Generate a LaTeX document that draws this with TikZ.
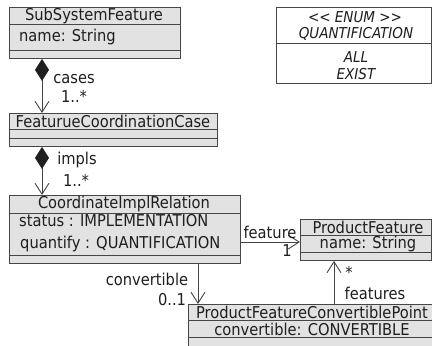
\documentclass[tikz,border=0pt]{standalone}
\usepackage{fontspec}
\setmainfont{DejaVu Sans Condensed}
\usetikzlibrary{arrows.meta,calc}
\definecolor{boxfill}{RGB}{226,226,226}
\definecolor{ink}{RGB}{30,30,30}
\definecolor{edge}{RGB}{70,70,70}

\begin{document}
\begin{tikzpicture}[x=1pt,y=-1pt,
  classbox/.style={draw=edge, fill=boxfill, line width=0.9pt, inner sep=0pt, anchor=north west},
  enumbox/.style={draw=edge, fill=white, line width=0.9pt, inner sep=0pt, anchor=north west},
  txt/.style={font=\fontsize{16.3}{18}\selectfont, text=ink, inner sep=0pt},
  etxt/.style={txt, font=\fontsize{15}{17}\selectfont\itshape},
  sep/.style={draw=edge, line width=0.9pt},
  assoc/.style={draw=edge, line width=0.9pt, -{Straight Barb[length=11pt,width=14pt]}},
  comp/.style={draw=edge, line width=0.9pt,
    {Diamond[length=22pt,width=14pt,fill=ink,color=ink]}-{Straight Barb[length=11pt,width=14pt]}},
]
\useasboundingbox (0,0) rectangle (432,346);

% SubSystemFeature
\node[classbox, minimum width=171pt, minimum height=51pt] (ssf) at (9,7) {};
\draw[sep] ($(ssf.north west)+(0,17)$) -- ($(ssf.north east)+(0,17)$);
\draw[sep] ($(ssf.north west)+(0,43)$) -- ($(ssf.north east)+(0,43)$);
\node[txt] (ssfT) at (94,16) {SubSystemFeature};
\node[txt, anchor=west] (ssfA) at (19,37) {name: String};

% FeaturueCoordinationCase
\node[classbox, minimum width=208pt, minimum height=33pt] (fcc) at (9,113) {};
\draw[sep] ($(fcc.north west)+(0,16)$) -- ($(fcc.north east)+(0,16)$);
\draw[sep] ($(fcc.north west)+(0,25)$) -- ($(fcc.north east)+(0,25)$);
\node[txt] (fccT) at (113,121) {FeaturueCoordinationCase};

% CoordinateImplRelation
\node[classbox, minimum width=231pt, minimum height=68pt] (cir) at (9,195) {};
\draw[sep] ($(cir.north west)+(0,18)$) -- ($(cir.north east)+(0,18)$);
\draw[sep] ($(cir.north west)+(0,60)$) -- ($(cir.north east)+(0,60)$);
\node[txt] (cirT) at (124,204) {CoordinateImplRelation};
\node[txt, anchor=west] (cirA) at (19,221) {status : IMPLEMENTATION};
\node[txt, anchor=west] (cirB) at (20,244) {quantify : QUANTIFICATION};

% ProductFeature
\node[classbox, minimum width=131pt, minimum height=41pt] (pf) at (300,219) {};
\draw[sep] ($(pf.north west)+(0,16)$) -- ($(pf.north east)+(0,16)$);
\draw[sep] ($(pf.north west)+(0,33)$) -- ($(pf.north east)+(0,33)$);
\node[txt] (pfT) at (368,227) {ProductFeature};
\node[txt] (pfA) at (368,244) {name: String};

% ProductFeatureConvertiblePoint (runs past the lower and right edges)
\node[classbox, minimum width=260pt, minimum height=60pt] (pfcp) at (188,304) {};
\draw[sep] ($(pfcp.north west)+(0,16)$) -- ($(pfcp.north east)+(0,16)$);
\draw[sep] ($(pfcp.north west)+(0,33)$) -- ($(pfcp.north east)+(0,33)$);
\node[txt] (pfcpT) at (312,312) {ProductFeatureConvertiblePoint};
\node[txt] (pfcpA) at (312,329) {convertible: CONVERTIBLE};

% QUANTIFICATION enumeration
\node[enumbox, minimum width=155pt, minimum height=76pt] (en) at (276,7) {};
\draw[sep] ($(en.north west)+(0,36)$) -- ($(en.north east)+(0,36)$);
\node[etxt] (enS) at (355,17) {{<}{<} ENUM {>}{>}};
\node[etxt] (enN) at (356,34) {QUANTIFICATION};
\node[etxt] (enA) at (356,57) {ALL};
\node[etxt] (enB) at (356,74) {EXIST};

% connector positions
\coordinate (xc) at (42,0);
\coordinate (xv) at (198,0);
\coordinate (xf) at (334,0);
\coordinate (yf) at (0,242);

% compositions
\draw[comp] (ssf.south -| xc) -- (fcc.north -| xc);
\node[txt] (casesL) at (74,79) {cases};
\node[txt] (casesM) at (74,96) {1..*};

\draw[comp] (fcc.south -| xc) -- (cir.north -| xc);
\node[txt] (implsL) at (77,160) {impls};
\node[txt] (implsM) at (76,180) {1..*};

% associations
\draw[assoc] (cir.east |- yf) -- (pf.west |- yf);
\node[txt] (featL) at (270,232) {feature};
\node[txt] (featM) at (287,251) {1};

\draw[assoc] (cir.south -| xv) -- (pfcp.north -| xv);
\node[txt] (convL) at (147,279) {convertible};
\node[txt] (convM) at (172,300) {0..1};

\draw[assoc] (pfcp.north -| xf) -- (pf.south -| xf);
\node[txt] (featsM) at (349,272) {*};
\node[txt] (featsL) at (375,293) {features};
\end{tikzpicture}
\end{document}
